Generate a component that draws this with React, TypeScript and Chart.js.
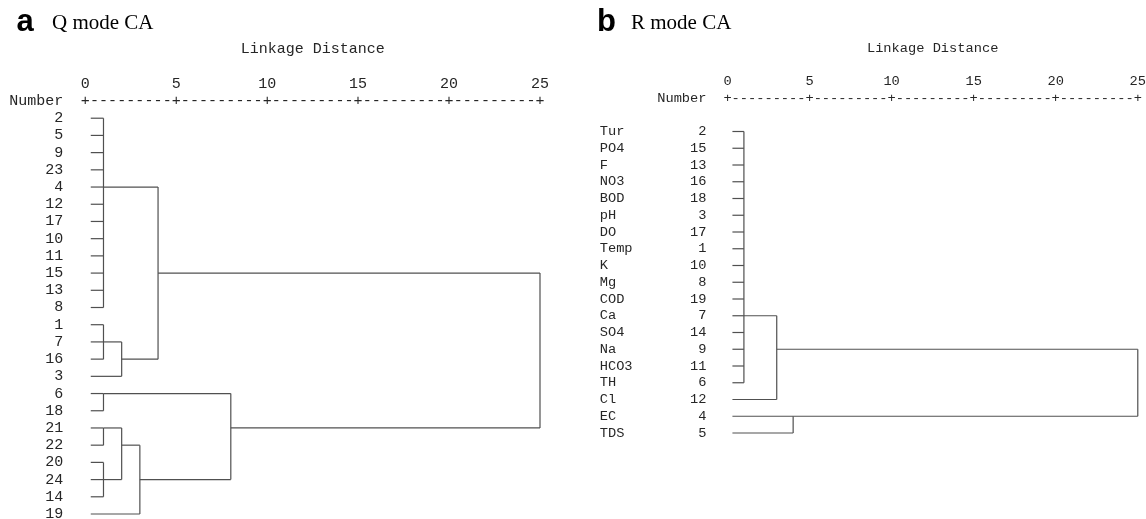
import React, { useEffect, useRef } from 'react';
import { Chart, registerables } from 'chart.js';

Chart.register(...registerables);

// ---- Q mode cluster analysis (sampling sites) ----
// leaves in dendrogram order, top to bottom
const qLeaves = ['2', '5', '9', '23', '4', '12', '17', '10', '11', '15', '13', '8', '1', '7', '16', '3', '6', '18', '21', '22', '20', '24', '14', '19'];
// each join lists its members: leaf rows (< leaf count) or earlier joins (leaf count + join index)
const qJoinMembers: number[][] = [
  [0, 1, 2, 3, 4, 5, 6, 7, 8, 9, 10, 11],
  [12, 13, 14],
  [25, 15],
  [24, 26],
  [16, 17],
  [18, 19],
  [20, 21, 22],
  [29, 30],
  [31, 23],
  [28, 32],
  [27, 33],
];
// rescaled linkage distance of each join
const qJoinDistances = [1, 1, 2, 4, 1, 1, 1, 2, 3, 8, 25];
// leaf carrying a join's outgoing link (null: midway between its outer members)
const qLinkLeaf: (string | null)[] = ['4', null, null, null, null, null, null, null, null, null, null];

// ---- R mode cluster analysis (parameters) ----
const rNames = ['Tur', 'PO4', 'F', 'NO3', 'BOD', 'pH', 'DO', 'Temp', 'K', 'Mg', 'COD', 'Ca', 'SO4', 'Na', 'HCO3', 'TH', 'Cl', 'EC', 'TDS'];
const rNumbers = [2, 15, 13, 16, 18, 3, 17, 1, 10, 8, 19, 7, 14, 9, 11, 6, 12, 4, 5];
const rJoinMembers: number[][] = [
  [0, 1, 2, 3, 4, 5, 6, 7, 8, 9, 10, 11, 12, 13, 14, 15],
  [19, 16],
  [17, 18],
  [20, 21],
];
const rJoinDistances = [1, 3, 4, 25];
const rLinkLeaf: (string | null)[] = ['Ca', null, null, null];

// distance axis
const distanceTicks = [0, 5, 10, 15, 20, 25];
const distanceTitle = 'Linkage Distance';
const LEAF_START = 0.3;

const MONO = "'Liberation Mono', 'Courier New', monospace";
const LINE_COLOR = '#505050';
const TEXT_COLOR = '#262626';

type Pt = { x: number; y: number };

function buildSegments(leafCount: number, members: number[][], distances: number[], linkRows: (number | null)[]): Pt[][] {
  const joinRow: number[] = [];
  const rowOf = (id: number) => (id < leafCount ? id : joinRow[id - leafCount]);
  const distOf = (id: number) => (id < leafCount ? LEAF_START : distances[id - leafCount]);
  const segs: Pt[][] = [];
  members.forEach((m, k) => {
    const d = distances[k];
    const rows = m.map(rowOf);
    m.forEach((id) => {
      segs.push([{ x: distOf(id), y: rowOf(id) }, { x: d, y: rowOf(id) }]);
    });
    const lo = Math.min(...rows);
    const hi = Math.max(...rows);
    segs.push([{ x: d, y: lo }, { x: d, y: hi }]);
    const forced = linkRows[k];
    joinRow[k] = forced != null ? forced : Math.floor((lo + hi) / 2);
  });
  return segs;
}

// "+---------+" ruler drawn along the distance scale at the header row
const rulerPlugin = {
  id: 'distanceRuler',
  afterDraw(chart: any, _args: any, opts: any) {
    const { ctx } = chart;
    const xs = chart.scales.x;
    const ys = chart.scales.y;
    const yy = ys.getPixelForValue(opts.row);
    ctx.save();
    ctx.font = `${opts.size}px ${MONO}`;
    ctx.fillStyle = opts.color;
    ctx.textAlign = 'center';
    ctx.textBaseline = 'middle';
    const vals: number[] = xs.ticks.map((t: any) => t.value);
    vals.forEach((v, i) => {
      ctx.fillText('+', xs.getPixelForValue(v), yy);
      if (i < vals.length - 1) {
        const nxt = vals[i + 1];
        for (let k = 1; k < 10; k++) {
          ctx.fillText('-', xs.getPixelForValue(v + ((nxt - v) * k) / 10), yy);
        }
      }
    });
    ctx.restore();
  },
};

type PanelProps = {
  left: number;
  width: number;
  height: number;
  labels: string[];
  members: number[][];
  distances: number[];
  linkLeaf: (string | null)[];
  headerRow: number;
  fontSize: number;
  axisWidth: number;
  axisHeight: number;
  labelGap: number;
  padRight: number;
  padBottom: number;
};

function Dendrogram(p: PanelProps) {
  const ref = useRef<HTMLCanvasElement | null>(null);

  useEffect(() => {
    if (!ref.current) return;
    const n = p.labels.length;
    const linkRows = p.linkLeaf.map((l) => (l == null ? null : p.labels.findIndex((s) => s.trim().split(/\s+/)[0] === l)));
    const segs = buildSegments(n, p.members, p.distances, linkRows);
    const datasets = segs.map((s) => ({
      data: s,
      borderColor: LINE_COLOR,
      borderWidth: 1.2,
      pointRadius: 0,
      fill: false,
      tension: 0,
      clip: false as any,
    }));
    const rows: number[] = [];
    for (let r = p.headerRow; r < n; r++) rows.push(r);
    const font = { family: MONO, size: p.fontSize };

    const chart = new Chart(ref.current, {
      type: 'line',
      data: { datasets },
      options: {
        animation: false,
        responsive: false,
        events: [],
        layout: { padding: { left: 0, right: p.padRight, top: 0, bottom: p.padBottom } },
        plugins: {
          legend: { display: false },
          tooltip: { enabled: false },
          distanceRuler: { row: p.headerRow, size: p.fontSize, color: TEXT_COLOR },
        } as any,
        scales: {
          x: {
            type: 'linear',
            position: 'top',
            min: distanceTicks[0],
            max: distanceTicks[distanceTicks.length - 1],
            afterBuildTicks: (s: any) => {
              s.ticks = distanceTicks.map((v) => ({ value: v }));
            },
            // hidden tick marks keep the label gap without widening the side padding
            grid: { display: false, drawTicks: true, tickLength: 8 },
            border: { display: false },
            ticks: { padding: 0, font, color: TEXT_COLOR, maxRotation: 0, autoSkip: false },
            title: {
              display: true,
              text: distanceTitle,
              font,
              color: TEXT_COLOR,
              padding: { top: 40, bottom: 0 },
            },
            afterFit: (s: any) => {
              s.height = p.axisHeight;
            },
          },
          y: {
            type: 'linear',
            reverse: true,
            min: p.headerRow,
            max: n - 1,
            afterBuildTicks: (s: any) => {
              s.ticks = rows.map((v) => ({ value: v }));
            },
            grid: { display: false, drawTicks: true, tickLength: p.labelGap },
            border: { display: false },
            ticks: {
              autoSkip: false,
              padding: 0,
              font: { family: MONO, size: p.fontSize, lineHeight: 0.6 },
              color: TEXT_COLOR,
              callback: (v: any) => {
                const r = Number(v);
                if (r === p.headerRow) return 'Number';
                return r >= 0 && r < n ? p.labels[r] : '';
              },
            },
            afterFit: (s: any) => {
              s.width = p.axisWidth;
            },
          },
        },
      },
      plugins: [rulerPlugin as any],
    });
    return () => chart.destroy();
  }, []);

  return (
    <canvas
      ref={ref}
      width={p.width}
      height={p.height}
      style={{ position: 'absolute', left: p.left, top: 0, width: p.width, height: p.height }}
    />
  );
}

function Heading({ letterLeft, titleLeft, letter, title }: { letterLeft: number; titleLeft: number; letter: string; title: string }) {
  return (
    <>
      <span
        style={{
          position: 'absolute',
          left: letterLeft,
          top: 4.5,
          font: "bold 31px 'Liberation Sans', Arial, sans-serif",
          lineHeight: '31px',
          color: '#000',
          whiteSpace: 'nowrap',
        }}
      >
        {letter}
      </span>
      <span
        style={{
          position: 'absolute',
          left: titleLeft,
          top: 12.4,
          font: "21px 'Liberation Serif', 'Times New Roman', serif",
          lineHeight: '21px',
          color: '#000',
          whiteSpace: 'nowrap',
        }}
      >
        {title}
      </span>
    </>
  );
}

const R_LABEL_CHARS = 13;
const rLabels = rNames.map((nm, i) => {
  const num = String(rNumbers[i]);
  return nm.padEnd(R_LABEL_CHARS - num.length, ' ') + num;
});

export default function App() {
  return (
    <div style={{ position: 'absolute', left: 0, top: 0, width: 1146, height: 519, background: '#fff', overflow: 'hidden' }}>
      <Dendrogram
        left={0}
        width={573}
        height={519}
        labels={qLeaves}
        members={qJoinMembers}
        distances={qJoinDistances}
        linkLeaf={qLinkLeaf}
        headerRow={-1}
        fontSize={15}
        axisWidth={85.3}
        axisHeight={101}
        labelGap={22}
        padRight={33}
        padBottom={5}
      />
      <Dendrogram
        left={573}
        width={573}
        height={519}
        labels={rLabels}
        members={rJoinMembers}
        distances={rJoinDistances}
        linkLeaf={rLinkLeaf}
        headerRow={-2}
        fontSize={13.7}
        axisWidth={154.5}
        axisHeight={98}
        labelGap={21}
        padRight={8}
        padBottom={86}
      />
      <Heading letterLeft={16.5} titleLeft={52} letter="a" title="Q mode CA" />
      <Heading letterLeft={597} titleLeft={631} letter="b" title="R mode CA" />
    </div>
  );
}
